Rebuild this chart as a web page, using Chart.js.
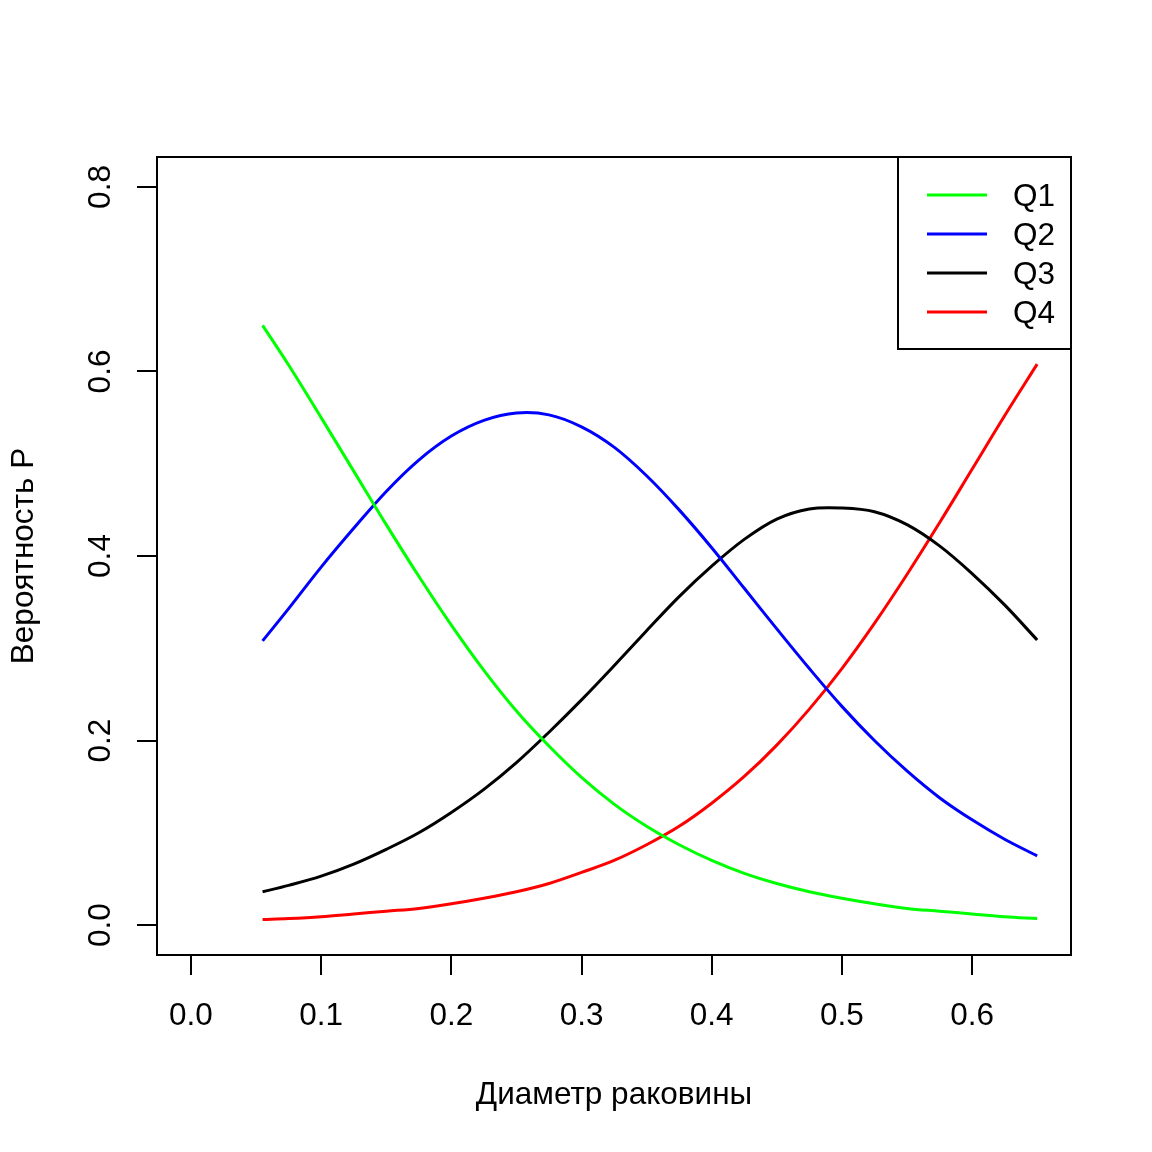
<!DOCTYPE html>
<html>
<head>
<meta charset="utf-8">
<script src="https://cdn.jsdelivr.net/npm/chart.js@4.4.1/dist/chart.umd.min.js"></script>
<style>
  html, body { margin: 0; padding: 0; background: #fff; }
  canvas { display: block; }
</style>
</head>
<body>
<canvas id="chart" width="1152" height="1152"></canvas>
<script>
// значения
const diameter = [0.055, 0.075, 0.1, 0.125, 0.15, 0.175, 0.2, 0.225, 0.25, 0.275, 0.3, 0.325, 0.35,
                  0.375, 0.4, 0.425, 0.45, 0.475, 0.5, 0.525, 0.55, 0.575, 0.6, 0.625, 0.65];
const q1 = [0.650, 0.607, 0.550, 0.492, 0.434, 0.378, 0.325, 0.276, 0.232, 0.194, 0.160, 0.131, 0.107,
            0.087, 0.070, 0.056, 0.045, 0.036, 0.029, 0.023, 0.018, 0.015, 0.012, 0.009, 0.007];
const q2 = [0.308, 0.343, 0.388, 0.430, 0.470, 0.504, 0.530, 0.547, 0.555, 0.553, 0.540, 0.518, 0.487,
            0.450, 0.409, 0.365, 0.321, 0.278, 0.237, 0.200, 0.167, 0.138, 0.114, 0.093, 0.075];
const q3 = [0.036, 0.043, 0.053, 0.066, 0.082, 0.100, 0.122, 0.147, 0.176, 0.209, 0.244, 0.281, 0.319,
            0.356, 0.389, 0.418, 0.440, 0.451, 0.452, 0.448, 0.434, 0.411, 0.381, 0.347, 0.309];
const q4 = [0.006, 0.007, 0.009, 0.012, 0.015, 0.018, 0.023, 0.029, 0.036, 0.045, 0.057, 0.070, 0.087,
            0.107, 0.132, 0.161, 0.195, 0.234, 0.278, 0.327, 0.380, 0.436, 0.494, 0.552, 0.608];

const seriesLabels = ['Q1', 'Q2', 'Q3', 'Q4'];
const seriesColors = ['#00ff00', '#0000ff', '#000000', '#ff0000'];
const xTicks = [0, 0.1, 0.2, 0.3, 0.4, 0.5, 0.6];
const yTicks = [0, 0.2, 0.4, 0.6, 0.8];

const FONT = 'Liberation Sans, Arial, sans-serif';
const FS = 31.5;

const toPoints = ys => ys.map((y, i) => ({ x: diameter[i], y }));

// рамка, подписи оси Y (повёрнутые) и легенда в стиле base R
const rFrame = {
    id: 'rFrame',
    afterDraw(chart) {
        const { ctx, chartArea: a, scales } = chart;
        ctx.save();
        ctx.strokeStyle = '#000';
        ctx.lineWidth = 2;
        ctx.strokeRect(a.left, a.top, a.right - a.left, a.bottom - a.top);

        ctx.fillStyle = '#000';
        ctx.font = `${FS}px ${FONT}`;
        ctx.textAlign = 'center';
        ctx.textBaseline = 'middle';
        yTicks.forEach(v => {
            const py = scales.y.getPixelForValue(v);
            ctx.save();
            ctx.translate(101, py);
            ctx.rotate(-Math.PI / 2);
            ctx.fillText(v.toFixed(1), 0, 0);
            ctx.restore();
        });

        // легенда
        const lx = 898, ly = a.top, lw = a.right - 898, lh = 192;
        ctx.strokeRect(lx, ly, lw, lh);
        ctx.textAlign = 'left';
        seriesLabels.forEach((lab, i) => {
            const y = 195 + i * 39;
            ctx.strokeStyle = seriesColors[i];
            ctx.lineWidth = 3;
            ctx.beginPath();
            ctx.moveTo(927, y);
            ctx.lineTo(987, y);
            ctx.stroke();
            ctx.fillText(lab, 1013, y + 2);
        });
        ctx.restore();
    },
};

new Chart(document.getElementById('chart'), {
    type: 'line',
    data: {
        datasets: [q1, q2, q3, q4].map((d, i) => ({
            label: seriesLabels[i],
            data: toPoints(d),
            borderColor: seriesColors[i],
            borderWidth: 3,
            pointRadius: 0,
            fill: false,
            tension: 0.35,
        })),
    },
    options: {
        responsive: false,
        animation: false,
        devicePixelRatio: 1,
        layout: { padding: { left: 0, right: 81, top: 157, bottom: 0 } },
        plugins: { legend: { display: false }, tooltip: { enabled: false } },
        scales: {
            x: {
                type: 'linear',
                min: -0.0261,
                max: 0.676,
                afterBuildTicks: s => { s.ticks = xTicks.map(v => ({ value: v })); },
                afterFit: s => { s.height = 197; },
                border: { display: false },
                grid: { drawOnChartArea: false, drawTicks: true, tickLength: 20, color: '#000', lineWidth: 2 },
                ticks: {
                    color: '#000',
                    padding: 22,
                    maxRotation: 0,
                    font: { family: FONT, size: FS },
                    callback: v => v.toFixed(1),
                },
                title: {
                    display: true,
                    text: 'Диаметр раковины',
                    color: '#000',
                    font: { family: FONT, size: FS },
                    padding: { top: 0, bottom: 38 },
                },
            },
            y: {
                type: 'linear',
                min: -0.0325,
                max: 0.8325,
                afterBuildTicks: s => { s.ticks = yTicks.map(v => ({ value: v })); },
                afterFit: s => { s.width = 157; },
                border: { display: false },
                grid: { drawOnChartArea: false, drawTicks: true, tickLength: 20, color: '#000', lineWidth: 2 },
                ticks: { display: false },
                title: {
                    display: true,
                    text: 'Вероятность P',
                    color: '#000',
                    font: { family: FONT, size: FS },
                    padding: { top: 5, bottom: 0 },
                },
            },
        },
    },
    plugins: [rFrame],
});
</script>
</body>
</html>
